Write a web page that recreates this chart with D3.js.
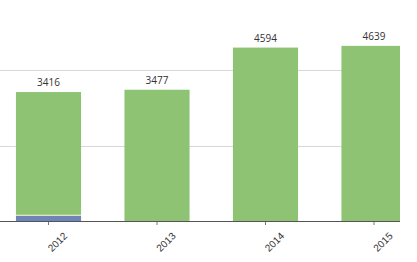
<!DOCTYPE html>
<html>
<head>
<meta charset="utf-8">
<script src="https://cdn.jsdelivr.net/npm/d3@7"></script>
<style>
  body { margin: 0; background: #fff; }
  svg { display: block; font-family: "Open Sans", "DejaVu Sans", sans-serif; }
</style>
</head>
<body>
<svg id="chart" width="417" height="262"></svg>
<script>
// data
const years = ["2012", "2013", "2014", "2015"];
const seriesBlue = [140, 0, 0, 0];
const seriesYellow = [25, 0, 0, 0];
const seriesGreen = [3251, 3477, 4594, 4639];
const gridValues = [2000, 4000, 6000];

const colors = ["#6f84bb", "#e9e6a6", "#8dc373"];

const svg = d3.select("#chart");
const baseY = 221;
const plotRight = 400;

const x = d3.scaleBand()
    .domain(years)
    .range([-5.75, 428.25])
    .paddingInner(0.4)
    .paddingOuter(0.2);

const y = d3.scaleLinear()
    .domain([0, 4000])
    .range([baseY, 70]);

const rows = years.map((yr, i) => ({
    year: yr,
    blue: seriesBlue[i],
    yellow: seriesYellow[i],
    green: seriesGreen[i]
}));
const stack = d3.stack().keys(["blue", "yellow", "green"]);
const layers = stack(rows);

svg.append("defs").append("clipPath")
    .attr("id", "plot-clip")
    .append("rect")
    .attr("x", 0).attr("y", -20)
    .attr("width", plotRight).attr("height", 300);

// gridlines
svg.append("g")
    .selectAll("line")
    .data(gridValues)
    .enter().append("line")
    .attr("x1", 0).attr("x2", plotRight)
    .attr("y1", d => Math.round(y(d)) + 0.5)
    .attr("y2", d => Math.round(y(d)) + 0.5)
    .attr("stroke", "#d8d8d8")
    .attr("stroke-width", 1);

const plot = svg.append("g").attr("clip-path", "url(#plot-clip)");

plot.selectAll("g.layer")
    .data(layers)
    .enter().append("g")
    .attr("class", "layer")
    .attr("fill", (d, i) => colors[i])
    .selectAll("rect")
    .data(d => d.filter(s => s[1] - s[0] > 0))
    .enter().append("rect")
    .attr("x", d => x(d.data.year))
    .attr("width", x.bandwidth())
    .attr("y", d => y(d[1]))
    .attr("height", d => y(d[0]) - y(d[1]));

// x axis
const xAxis = d3.axisBottom(x).tickSize(4).tickSizeOuter(0);
const axisG = svg.append("g")
    .attr("transform", `translate(0,${baseY})`)
    .call(xAxis);
axisG.select(".domain").remove();
axisG.append("line")
    .attr("x1", 0).attr("x2", plotRight)
    .attr("y1", 0.5).attr("y2", 0.5)
    .attr("stroke", "#555");
axisG.selectAll(".tick line").attr("stroke", "#777");
axisG.selectAll(".tick text")
    .attr("fill", "#333")
    .style("font-size", "10px")
    .attr("text-anchor", "middle")
    .attr("dy", "0.35em")
    .attr("y", 0)
    .attr("transform", "translate(9,21) rotate(-45)");

// totals above bars
const totals = years.map((yr, i) => seriesBlue[i] + seriesYellow[i] + seriesGreen[i]);
svg.append("g")
    .selectAll("text")
    .data(years)
    .enter().append("text")
    .attr("x", d => x(d) + x.bandwidth() / 2)
    .attr("y", (d, i) => y(totals[i]) - 6)
    .attr("text-anchor", "middle")
    .attr("fill", "#333")
    .style("font-size", "10px")
    .text((d, i) => totals[i]);
</script>
</body>
</html>
